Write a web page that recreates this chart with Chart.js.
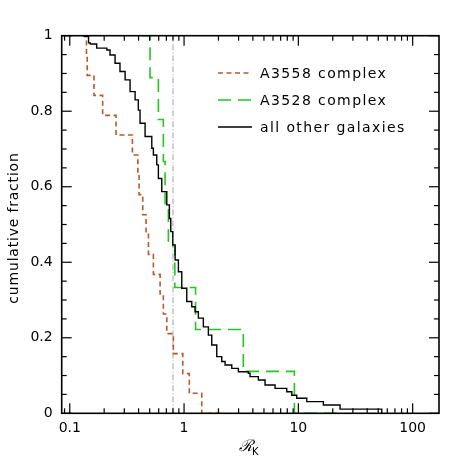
<!DOCTYPE html>
<html>
<head>
<meta charset="utf-8">
<script src="https://cdn.jsdelivr.net/npm/chart.js@4"></script>
<style>
  html, body { margin: 0; padding: 0; background: #fff; }
  canvas { display: block; }
</style>
</head>
<body>
<canvas id="graphique" width="463" height="463"></canvas>
<script>

// A3558 complex (tirets bruns)
const a3558X = [0.13, 0.140, 0.142, 0.163, 0.194, 0.254, 0.353, 0.394, 0.404, 0.435, 0.465, 0.488, 0.539, 0.617, 0.659, 0.706, 0.806, 0.974, 1.112, 1.428, 2.2];
const a3558Y = [1, 0.947, 0.895, 0.842, 0.789, 0.737, 0.684, 0.632, 0.579, 0.526, 0.474, 0.421, 0.368, 0.316, 0.263, 0.211, 0.158, 0.105, 0.053, 0, 0];

// A3528 complex (tirets verts)
const a3528X = [0.426, 0.504, 0.596, 0.659, 0.682, 0.729, 0.830, 1.261, 3.30, 9.23, 24];
const a3528Y = [1, 0.889, 0.778, 0.667, 0.556, 0.444, 0.333, 0.222, 0.111, 0, 0];

// all other galaxies (trait noir)
const autresX = [0.131, 0.136, 0.146, 0.151, 0.172, 0.211, 0.225, 0.249, 0.275, 0.305, 0.337, 0.373, 0.398, 0.412, 0.456, 0.522, 0.539, 0.577, 0.596, 0.638, 0.706, 0.744, 0.765, 0.797, 0.835, 0.892, 0.955, 1.056, 1.168, 1.248, 1.334, 1.475, 1.632, 1.747, 1.932, 2.137, 2.285, 2.615, 2.987, 3.652, 3.779, 4.467, 5.113, 6.254, 7.915, 8.756, 9.683, 11.85, 16.55, 23.16, 53.66];
const autresY = [1.0, 0.998, 0.981, 0.978, 0.967, 0.962, 0.949, 0.927, 0.905, 0.883, 0.852, 0.830, 0.803, 0.768, 0.733, 0.702, 0.684, 0.658, 0.622, 0.587, 0.552, 0.516, 0.481, 0.446, 0.406, 0.375, 0.331, 0.296, 0.282, 0.269, 0.252, 0.229, 0.207, 0.181, 0.150, 0.137, 0.128, 0.119, 0.110, 0.106, 0.097, 0.088, 0.075, 0.066, 0.057, 0.048, 0.040, 0.031, 0.022, 0.011, 0];

// ligne verticale de reference
const refX = [0.8, 0.8];
const refY = [0, 1];

const xTickLabels = [0.1, 1, 10, 100];
const yTickLabels = [0, 0.2, 0.4, 0.6, 0.8, 1];

const series = [
  { label: 'A3558 complex', x: a3558X, y: a3558Y, color: '#b8582a', width: 1.6, dash: [5, 3.5] },
  { label: 'A3528 complex', x: a3528X, y: a3528Y, color: '#22c522', width: 1.6, dash: [13, 7] },
  { label: 'all other galaxies', x: autresX, y: autresY, color: '#000000', width: 1.4, dash: [] }
];

function points(xs, ys) {
  return xs.map((v, i) => ({ x: v, y: ys[i] }));
}

Chart.defaults.font.family = 'DejaVu Sans';
Chart.defaults.font.size = 14;
Chart.defaults.color = '#000';

// cadre, petites graduations, legende et titres des axes
const cadre = {
  id: 'cadre',
  afterDraw(chart) {
    const { ctx, chartArea: a, scales: { x, y } } = chart;
    ctx.save();
    ctx.strokeStyle = '#000';
    ctx.lineWidth = 1.2;
    const seg = (x1, y1, x2, y2) => {
      ctx.beginPath(); ctx.moveTo(x1, y1); ctx.lineTo(x2, y2); ctx.stroke();
    };
    for (let i = 0; i <= 20; i++) {
      const py = y.getPixelForValue(i * 0.05);
      const len = i % 4 === 0 ? 10 : 5;
      seg(a.left, py, a.left + len, py);
      seg(a.right, py, a.right - len, py);
    }
    for (let d = -2; d <= 2; d++) {
      for (let m = 1; m <= 9; m++) {
        const v = m * Math.pow(10, d);
        if (v < x.min || v > x.max) continue;
        const px = x.getPixelForValue(v);
        const len = m === 1 ? 10 : 5;
        seg(px, a.bottom, px, a.bottom - len);
        seg(px, a.top, px, a.top + len);
      }
    }
    ctx.lineWidth = 1.6;
    ctx.strokeRect(a.left, a.top, a.right - a.left, a.bottom - a.top);

    // legende
    ctx.font = '14px "DejaVu Sans"';
    ctx.textBaseline = 'middle';
    ctx.textAlign = 'left';
    ctx.fillStyle = '#000';
    const rows = [73, 100, 127];
    series.forEach((s, i) => {
      ctx.save();
      ctx.strokeStyle = s.color;
      ctx.lineWidth = s.width;
      ctx.setLineDash(s.dash);
      seg(218, rows[i], 252, rows[i]);
      ctx.restore();
      ctx.letterSpacing = '1.4px';
      ctx.fillText(s.label, 260, rows[i] + 1);
    });

    // titre axe y
    ctx.save();
    ctx.translate(14, 228);
    ctx.rotate(-Math.PI / 2);
    ctx.textAlign = 'center';
    ctx.letterSpacing = '0.8px';
    ctx.fillText('cumulative fraction', 0, 0);
    ctx.restore();

    // titre axe x
    ctx.letterSpacing = '0px';
    ctx.textAlign = 'left';
    ctx.textBaseline = 'alphabetic';
    ctx.font = 'italic 16px "DejaVu Serif"';
    ctx.fillText('\u211B', 239, 451);
    ctx.font = '10px "DejaVu Sans"';
    ctx.fillText('K', 252, 455);
    ctx.restore();
  }
};

const ctx = document.getElementById('graphique').getContext('2d');

const datasets = series.map((s, i) => ({
  label: s.label,
  data: points(s.x, s.y),
  borderColor: s.color,
  borderWidth: s.width,
  borderDash: s.dash,
  stepped: true,
  pointRadius: 0,
  fill: false,
  order: 3 - i
}));

datasets.push({
  label: 'ref',
  data: points(refX, refY),
  borderColor: '#8c8c8c',
  borderWidth: 0.8,
  borderDash: [6, 2, 1, 2],
  pointRadius: 0,
  fill: false,
  order: 5
});

new Chart(ctx, {
  type: 'line',
  data: { datasets: datasets },
  options: {
    responsive: false,
    animation: false,
    layout: { padding: { top: 35.7, right: 24, left: 0, bottom: 0 } },
    plugins: { legend: { display: false }, tooltip: { enabled: false } },
    scales: {
      x: {
        type: 'logarithmic',
        min: 0.085,
        max: 170,
        grid: { display: false, drawTicks: false },
        border: { display: false },
        afterBuildTicks: (scale) => { scale.ticks = xTickLabels.map(v => ({ value: v })); },
        ticks: { padding: 7, maxRotation: 0, autoSkip: false, callback: (v) => String(v) },
        afterFit: (scale) => { scale.height = 49.7; }
      },
      y: {
        type: 'linear',
        min: 0,
        max: 1,
        grid: { display: false, drawTicks: false },
        border: { display: false },
        afterBuildTicks: (scale) => { scale.ticks = yTickLabels.map(v => ({ value: v })); },
        ticks: { padding: 9, callback: (v) => (v === 0 || v === 1) ? String(v) : v.toFixed(1) },
        afterFit: (scale) => { scale.width = 61.7; }
      }
    }
  },
  plugins: [cadre]
});
</script>
</body>
</html>
